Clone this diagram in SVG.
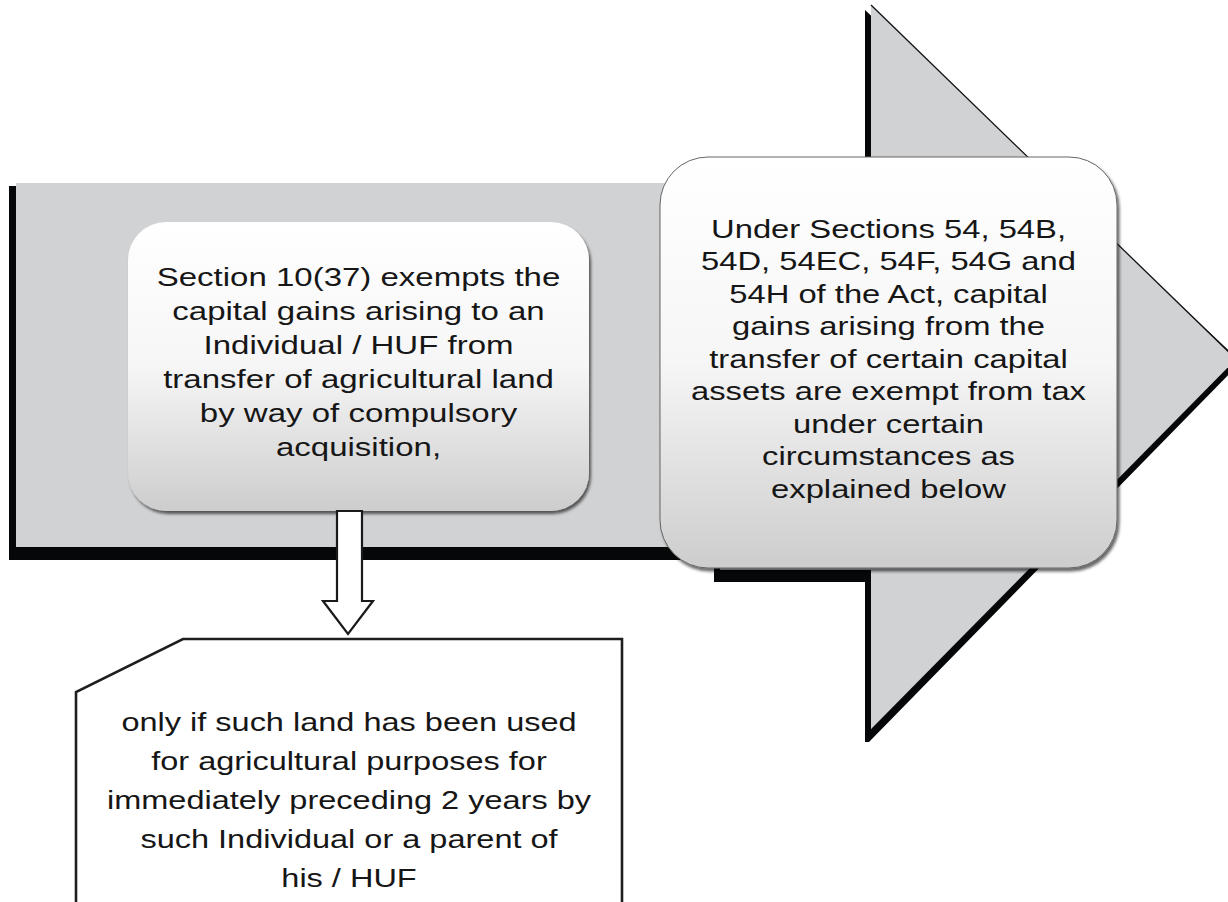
<svg xmlns="http://www.w3.org/2000/svg" width="1228" height="902" viewBox="0 0 1228 902">
<defs>
<style>
.t{font-family:"Liberation Sans",Arial,sans-serif;font-size:26px;fill:#161616;text-anchor:middle}
.box{fill:url(#g);filter:url(#sh)}
</style>
<linearGradient id="g" x1="0" y1="0" x2="0" y2="1">
<stop offset="0" stop-color="#ffffff"/>
<stop offset="0.5" stop-color="#f6f6f6"/>
<stop offset="1" stop-color="#cdcdcd"/>
</linearGradient>
<filter id="sh" x="-10%" y="-10%" width="125%" height="125%">
<feDropShadow dx="2" dy="3" stdDeviation="1.6" flood-color="#000" flood-opacity="0.6"/>
</filter>
</defs>
<rect width="1228" height="902" fill="#fff"/>
<g id="big-arrow">
<polygon points="9,186 865,186 865,10 1241,362 869,742 865,742 865,582 714,582 714,560 9,560" fill="#050708"/>
<polygon points="16,183 871,183 871,5 1237,360 871,731 871,570 720,570 720,547 16,547" fill="#d1d2d4"/>
<line x1="871" y1="5" x2="1237" y2="360" stroke="#111" stroke-width="1.3"/>
<line x1="1237" y1="360" x2="871" y2="731" stroke="#050708" stroke-width="2.5"/>
</g>
<g id="box-left">
<rect class="box" x="128" y="222" width="461" height="289" rx="38"/>
<g transform="translate(358.5,0) scale(1.27,1)">
<text class="t" x="0" y="286">Section 10(37) exempts the</text>
<text class="t" x="0" y="320">capital gains arising to an</text>
<text class="t" x="0" y="354">Individual / HUF from</text>
<text class="t" x="0" y="388">transfer of agricultural land</text>
<text class="t" x="0" y="422">by way of compulsory</text>
<text class="t" x="0" y="456">acquisition,</text>
</g>
</g>
<g id="box-right">
<rect class="box" x="660" y="157" width="457" height="411" rx="48" stroke="#666" stroke-width="1"/>
<g transform="translate(888.5,0) scale(1.26,1)">
<text class="t" x="0" y="238">Under Sections 54, 54B,</text>
<text class="t" x="0" y="270.5">54D, 54EC, 54F, 54G and</text>
<text class="t" x="0" y="303">54H of the Act, capital</text>
<text class="t" x="0" y="335.5">gains arising from the</text>
<text class="t" x="0" y="368">transfer of certain capital</text>
<text class="t" x="0" y="400.5">assets are exempt from tax</text>
<text class="t" x="0" y="433">under certain</text>
<text class="t" x="0" y="465.5">circumstances as</text>
<text class="t" x="0" y="498">explained below</text>
</g>
</g>
<g id="connectors">
<polygon points="337,511 362,511 362,601 373,601 348,634 323,601 337,601" fill="#fff" stroke="#1a1a1a" stroke-width="2.2" stroke-linejoin="miter"/>
</g>
<g id="box-bottom">
<polygon points="183,639 622,639 622,910 76,910 76,692" fill="#fff" stroke="#1e1e1e" stroke-width="2.6"/>
<g transform="translate(349,0) scale(1.25,1)">
<text class="t" x="0" y="731">only if such land has been used</text>
<text class="t" x="0" y="770">for agricultural purposes for</text>
<text class="t" x="0" y="809">immediately preceding 2 years by</text>
<text class="t" x="0" y="848">such Individual or a parent of</text>
<text class="t" x="0" y="887">his / HUF</text>
</g>
</g>
</svg>
